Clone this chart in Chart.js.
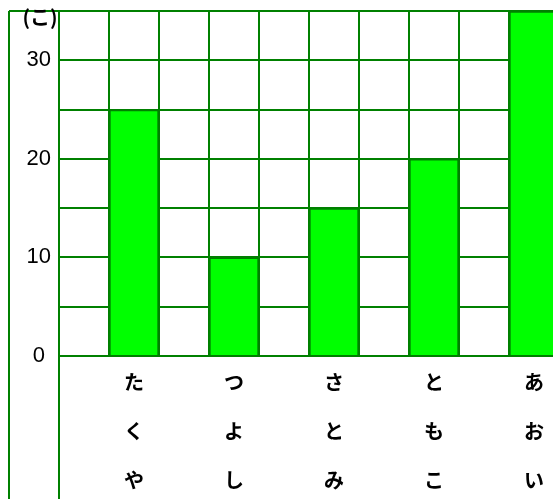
<!DOCTYPE html>
<html>
<head>
<meta charset="utf-8">
<script src="https://cdn.jsdelivr.net/npm/chart.js@4/dist/chart.umd.min.js"></script>
<style>
  html, body { margin: 0; padding: 0; overflow: hidden; background: #fff; }
  #wrap { width: 560px; height: 499px; }
</style>
</head>
<body>
<div id="wrap"><canvas id="myChart"></canvas></div>
<script>
// data
const names = ['たくや', 'つよし', 'さとみ', 'ともこ', 'あおい'];
const counts = [25, 10, 15, 20, 35];
const yLabels = [0, 10, 20, 30];
const unitLabel = '(こ)';

const GREEN = '#008000';
const FONT = "'Noto Sans CJK JP', 'Noto Sans', sans-serif";
const NUM_FONT = "'Liberation Sans Narrow', 'Liberation Sans', sans-serif";

// each name sits in every second column, with an empty column before it
const labels = [];
const values = [];
names.forEach((name, i) => {
    labels.push('');
    values.push(null);
    labels.push(name.split(''));
    values.push(counts[i]);
});

const framePlugin = {
    id: 'frame',
    afterDraw(chart) {
        const ctx = chart.ctx;
        const a = chart.chartArea;
        ctx.save();
        ctx.strokeStyle = GREEN;
        ctx.lineWidth = 2;
        ctx.beginPath();
        ctx.moveTo(9, a.top);
        ctx.lineTo(9, chart.height);
        ctx.moveTo(9, a.top);
        ctx.lineTo(a.left, a.top);
        ctx.moveTo(a.left, a.bottom);
        ctx.lineTo(a.left, chart.height);
        ctx.stroke();

        ctx.fillStyle = '#000';
        ctx.font = 'bold 20px ' + FONT;
        ctx.textAlign = 'center';
        ctx.textBaseline = 'middle';
        ctx.fillText(unitLabel, 40, a.top + 6);
        ctx.restore();
    }
};

const chartElement = document.getElementById('myChart');
const ctx = chartElement.getContext('2d');
const myChart = new Chart(ctx, {
    type: 'bar',
    data: {
        labels: labels,
        datasets: [{
            data: values,
            backgroundColor: '#00ff00',
            borderColor: GREEN,
            borderWidth: 2,
            barPercentage: 1,
            categoryPercentage: 1
        }]
    },
    options: {
        responsive: true,
        maintainAspectRatio: false,
        animation: false,
        layout: {
            padding: { top: 11, left: 9, right: 1, bottom: 0 }
        },
        plugins: {
            legend: { display: false },
            tooltip: { enabled: false }
        },
        scales: {
            x: {
                grid: {
                    color: GREEN,
                    lineWidth: 2,
                    drawTicks: false,
                    offset: true
                },
                border: { color: GREEN, width: 2 },
                ticks: {
                    autoSkip: false,
                    maxRotation: 0,
                    padding: 2,
                    color: '#000',
                    font: { family: FONT, size: 20, weight: 'bold', lineHeight: '49px' }
                },
                afterFit(scale) {
                    scale.height = 143;
                }
            },
            y: {
                min: 0,
                max: 35,
                grid: {
                    color: GREEN,
                    lineWidth: 2,
                    drawTicks: false
                },
                border: { color: GREEN, width: 2 },
                ticks: {
                    stepSize: 5,
                    padding: 8,
                    crossAlign: 'center',
                    color: '#000',
                    font: { family: NUM_FONT, size: 22 },
                    callback: (v) => yLabels.includes(v) ? v : ''
                },
                afterFit(scale) {
                    scale.width = 50;
                    scale.paddingTop = 0;
                    scale.paddingBottom = 0;
                }
            }
        }
    },
    plugins: [framePlugin]
});
</script>
</body>
</html>
